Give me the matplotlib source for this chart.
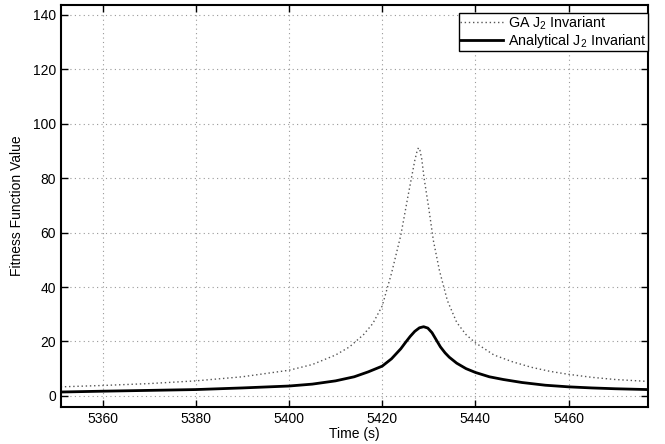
import matplotlib
matplotlib.use("Agg")
import matplotlib.pyplot as plt

plt.rcParams['font.family'] = ['Liberation Sans', 'DejaVu Sans']
plt.rcParams['mathtext.fontset'] = 'custom'
plt.rcParams['mathtext.rm'] = 'Liberation Sans'
plt.rcParams['mathtext.it'] = 'Liberation Sans:italic'

# GA J2 invariant (dotted)
ga_time = [5351, 5360, 5370, 5380, 5390, 5400, 5405, 5410, 5413, 5416, 5418,
           5420, 5422, 5424, 5425.5, 5426.5, 5427.0, 5427.5, 5427.8, 5428.1,
           5428.5, 5429, 5430, 5431, 5432.3, 5434, 5436, 5438, 5440, 5444,
           5448, 5452, 5456, 5460, 5465, 5470, 5477]
ga_value = [3.3, 3.8, 4.5, 5.5, 7.0, 9.4, 11.5, 15.0, 18.0, 22.5, 26.6,
            33.0, 45.0, 59.0, 73.0, 82.0, 86.5, 90.0, 91.2, 90.3,
            87.0, 80.0, 69.0, 57.0, 46.0, 35.0, 27.0, 22.5, 19.5, 15.0,
            12.5, 10.5, 9.0, 7.9, 6.8, 6.0, 5.3]

# Analytical J2 invariant (solid)
an_time = [5351, 5360, 5370, 5380, 5390, 5400, 5405, 5410, 5414, 5417, 5420,
           5422, 5424, 5425, 5426, 5427, 5428, 5428.9, 5429.8, 5430.7, 5431.6,
           5432.5, 5433.5, 5434.4, 5436, 5438, 5440, 5443, 5446, 5450, 5455,
           5460, 5465, 5470, 5477]
an_value = [1.4, 1.7, 2.0, 2.3, 2.9, 3.6, 4.3, 5.5, 7.0, 8.8, 10.9,
            13.6, 17.3, 19.6, 21.8, 23.7, 25.0, 25.4, 24.9, 23.2, 20.6,
            18.0, 15.8, 14.2, 12.0, 10.0, 8.6, 7.0, 6.0, 4.9, 3.9,
            3.3, 2.9, 2.6, 2.3]

x_ticks = [5360, 5380, 5400, 5420, 5440, 5460]
y_ticks = [0, 20, 40, 60, 80, 100, 120, 140]

fig = plt.figure(figsize=(6.65, 4.44), dpi=100)
ax = fig.add_axes([0.0913, 0.084, 0.8827, 0.905])

ax.plot(ga_time, ga_value, linestyle=(0, (1, 2)), color='#555555', lw=1.0,
        label='GA J$_2$ Invariant')
ax.plot(an_time, an_value, '-', color='black', lw=2.0,
        label='Analytical J$_2$ Invariant')

ax.set_xlim(5351, 5477)
ax.set_ylim(-4, 143.7)
ax.set_xticks(x_ticks)
ax.set_yticks(y_ticks)
ax.grid(True, linestyle=(0, (1, 3)), color='#999999', lw=0.8)
ax.tick_params(direction='in', top=True, right=True, labelsize=10, length=5, width=1)
for s in ax.spines.values():
    s.set_linewidth(1.5)

ax.set_xlabel('Time (s)', fontsize=10, labelpad=1)
ax.set_ylabel('Fitness Function Value', fontsize=10, labelpad=6)

leg = ax.legend(loc='upper right', bbox_to_anchor=(1.0, 0.980), fontsize=10.3,
                fancybox=False, framealpha=1, edgecolor='black',
                borderaxespad=0, handlelength=3.0, borderpad=0.1,
                labelspacing=0.0, handletextpad=0.3)
leg.get_frame().set_linewidth(1.0)

fig.savefig('out.png', dpi=100)
